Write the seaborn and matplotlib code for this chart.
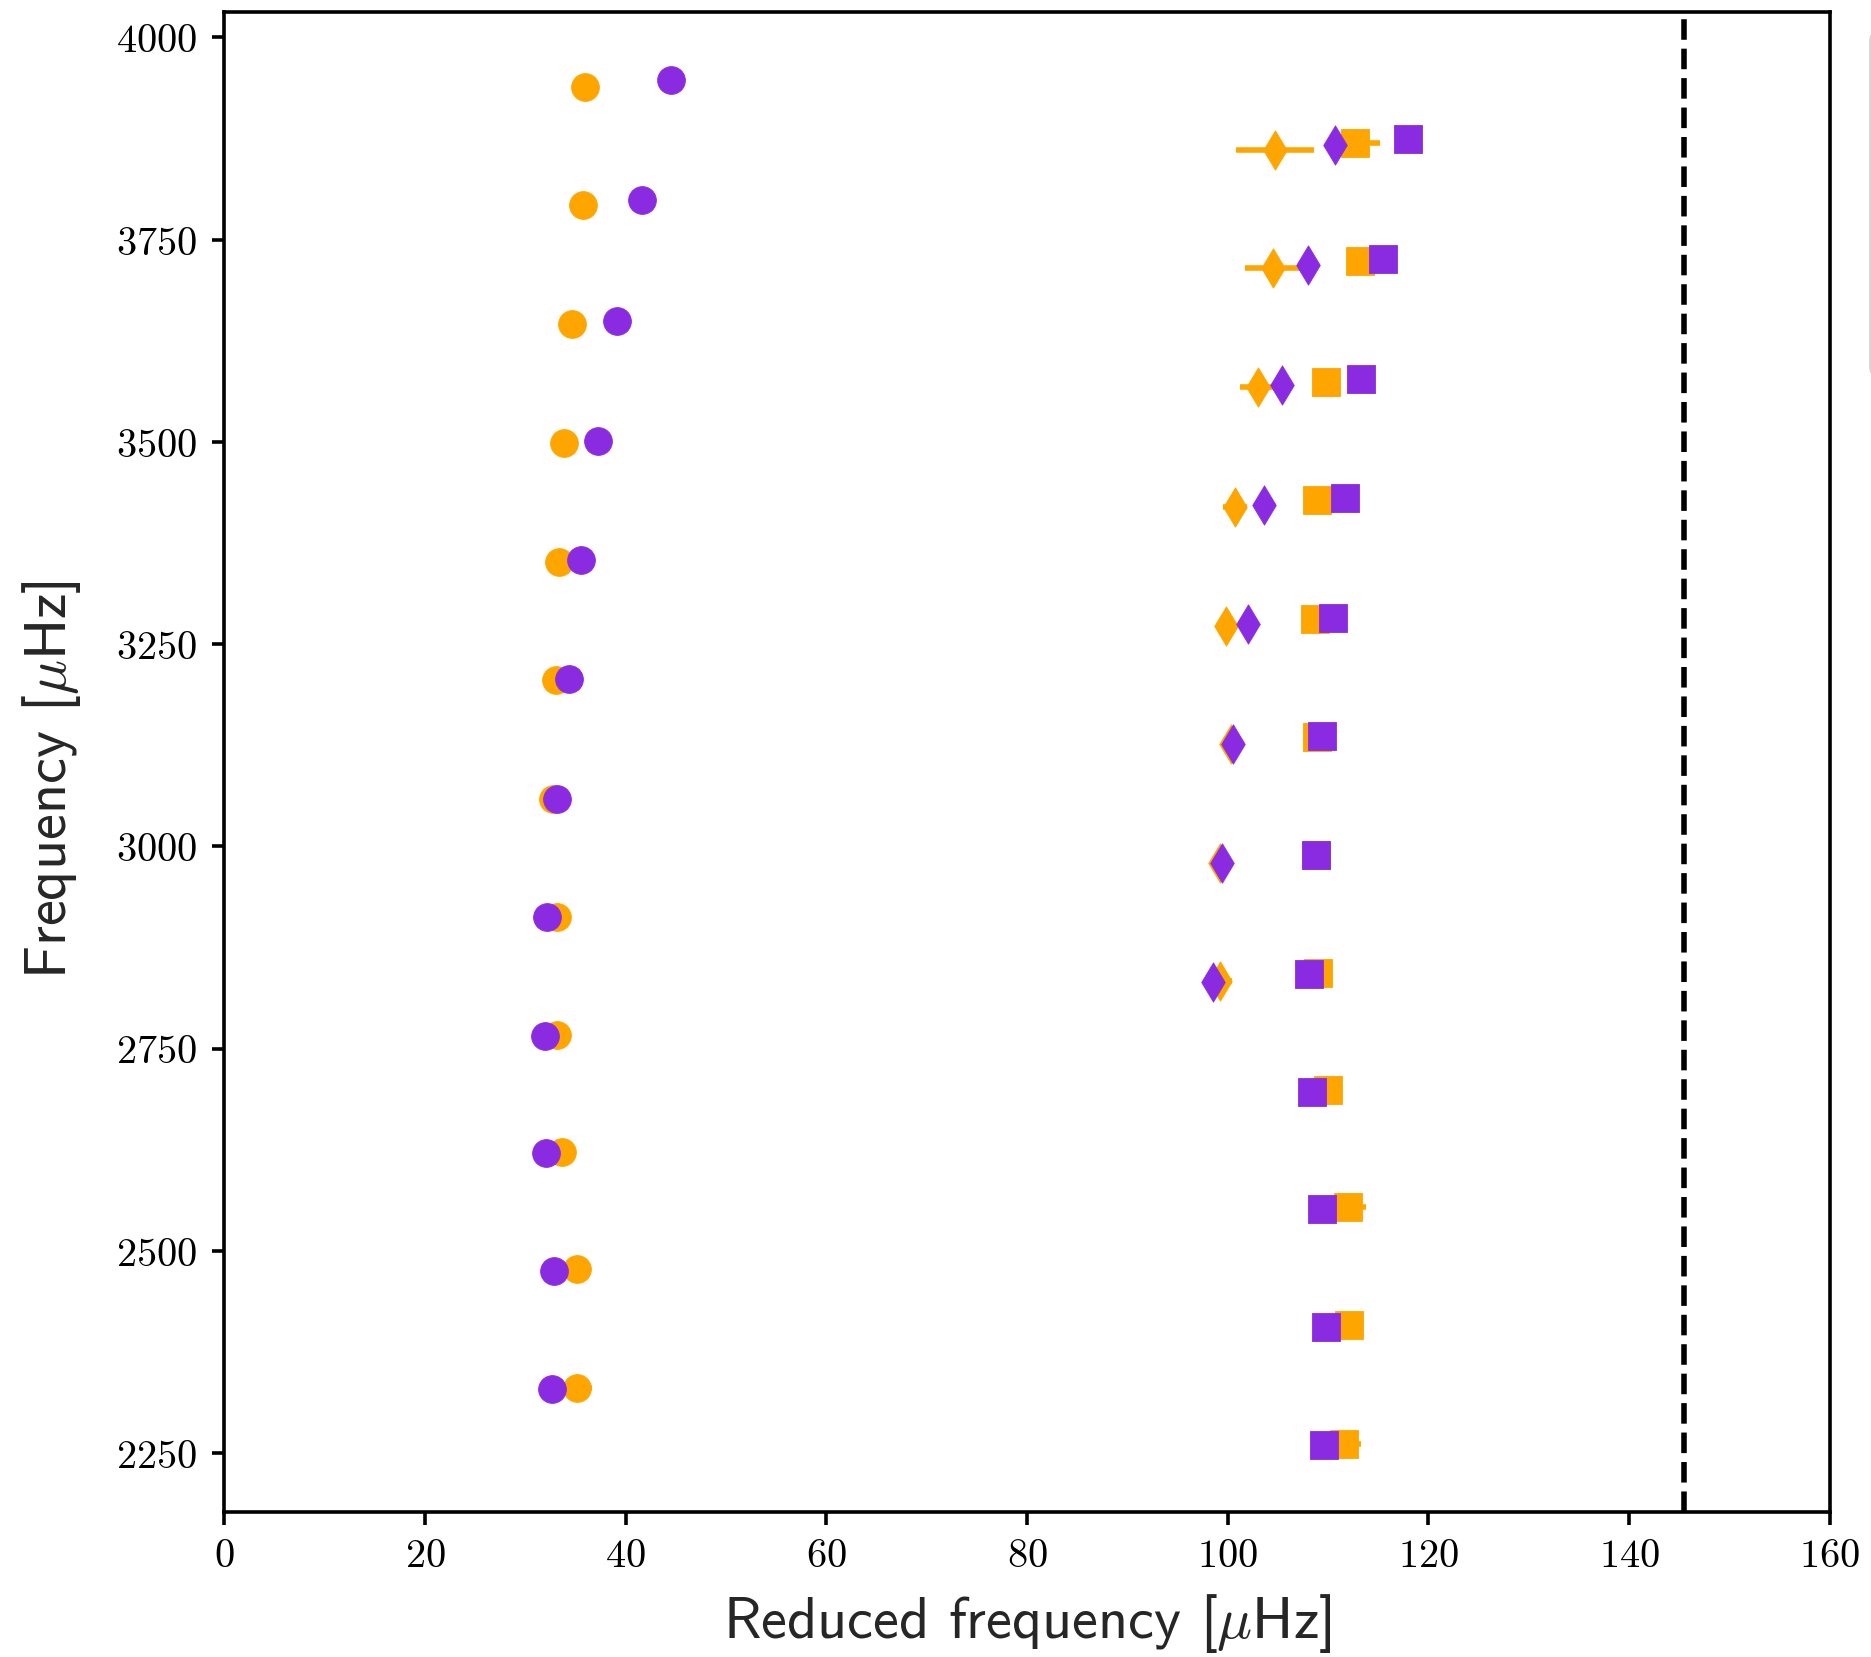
import numpy as np
import pandas as pd
import seaborn as sns
import matplotlib
matplotlib.use("Agg")
import matplotlib.pyplot as plt

# ---------------- data ----------------
# observed (orange)
obs_l1_x = [35.93, 35.73, 34.64, 33.81, 33.37, 33.04, 32.78, 33.17, 33.17, 33.70, 35.17, 35.14]
obs_l1_y = [3938.5, 3792.4, 3645.3, 3498.3, 3351.6, 3206.0, 3059.0, 2913.0, 2767.3, 2622.0, 2477.2, 2331.0]
obs_l1_err = [0.6, 0.5, 0.5, 0.4, 0.4, 0.4, 0.4, 0.4, 0.5, 0.6, 0.9, 1.5]

obs_l0_x = [112.7, 113.2, 109.75, 108.9, 108.7, 108.9, 108.8, 109.0, 109.95, 112.0, 112.1, 111.6]
obs_l0_y = [3869.5, 3724.0, 3574.5, 3427.5, 3281.0, 3135.4, 2989.6, 2843.0, 2698.3, 2554.0, 2408.0, 2261.7]
obs_l0_err = [2.5, 1.2, 0.9, 0.7, 0.6, 0.5, 0.5, 0.6, 0.8, 1.8, 1.2, 1.7]

obs_l2_x = [104.7, 104.5, 103.0, 100.7, 99.8, 100.35, 99.2, 99.2]
obs_l2_y = [3861.0, 3715.0, 3568.0, 3419.0, 3272.0, 3127.0, 2979.7, 2833.4]
obs_l2_err = [3.85, 2.8, 1.8, 1.2, 1.0, 0.9, 0.9, 1.2]

# model (purple)
mod_l1_x = [44.47, 41.60, 39.15, 37.20, 35.50, 34.37, 33.17, 32.20, 31.98, 32.10, 32.85, 32.65]
mod_l1_y = [3947.0, 3798.6, 3649.5, 3501.5, 3354.0, 3206.7, 3059.0, 2913.0, 2766.0, 2620.5, 2474.6, 2329.0]

mod_l0_x = [118.0, 115.5, 113.3, 111.7, 110.5, 109.4, 108.75, 108.1, 108.4, 109.35, 109.75, 109.6]
mod_l0_y = [3874.8, 3726.0, 3578.0, 3430.0, 3282.8, 3135.8, 2989.0, 2842.5, 2696.7, 2551.6, 2405.8, 2259.7]

mod_l2_x = [110.7, 108.0, 105.4, 103.6, 102.0, 100.5, 99.4, 98.5]
mod_l2_y = [3867.0, 3718.7, 3570.0, 3422.0, 3274.6, 3127.0, 2979.7, 2832.6]

delta_nu = 145.5

xticks = [0, 20, 40, 60, 80, 100, 120, 140, 160]
yticks = [2250, 2500, 2750, 3000, 3250, 3500, 3750, 4000]

# ---------------- style ----------------
sns.set_theme(style="ticks")
plt.rcParams.update({
    "font.family": ["cmr10", "DejaVu Sans"],
    "mathtext.fontset": "cm",
    "axes.formatter.use_mathtext": True,
    "axes.linewidth": 1.3,
    "axes.edgecolor": "black",
    "xtick.major.size": 4.5,
    "ytick.major.size": 4.5,
    "xtick.major.width": 1.3,
    "ytick.major.width": 1.3,
    "xtick.major.pad": 5.0,
    "ytick.major.pad": 5.5,
    "xtick.color": "black",
    "ytick.color": "black",
    "xtick.labelsize": 14.5,
    "ytick.labelsize": 14.5,
    "axes.unicode_minus": False,
})

ORANGE = "orange"
PURPLE = "blueviolet"

fig = plt.figure(figsize=(9.355, 8.29), dpi=200)
ax = fig.add_axes([0.1199, 0.0874, 0.978 - 0.1199, 0.992 - 0.0874])

# error bars (observed)
for xs, ys, es in [(obs_l1_x, obs_l1_y, obs_l1_err),
                   (obs_l0_x, obs_l0_y, obs_l0_err),
                   (obs_l2_x, obs_l2_y, obs_l2_err)]:
    ax.errorbar(xs, ys, xerr=es, fmt="none", ecolor=ORANGE, elinewidth=2,
                capsize=0, zorder=1)

groups = [
    (obs_l1_x, obs_l1_y, ORANGE, "o", r"$\ell=1$ observed"),
    (obs_l0_x, obs_l0_y, ORANGE, "s", r"$\ell=0$ observed"),
    (obs_l2_x, obs_l2_y, ORANGE, "d", r"$\ell=2$ observed"),
    (mod_l1_x, mod_l1_y, PURPLE, "o", r"$\ell=1$ model"),
    (mod_l0_x, mod_l0_y, PURPLE, "s", r"$\ell=0$ model"),
    (mod_l2_x, mod_l2_y, PURPLE, "d", r"$\ell=2$ model"),
]
for i, (xs, ys, c, m, lab) in enumerate(groups):
    df = pd.DataFrame({"x": xs, "y": ys})
    sns.scatterplot(data=df, x="x", y="y", ax=ax, color=c, marker=m, s=100,
                    edgecolor=c, linewidth=0.3, legend=False, label=lab,
                    zorder=3 + i)

ax.axvline(delta_nu, color="black", ls="--", lw=2, zorder=2)

ax.set_xlim(0, 160)
ax.set_xticks(xticks)
ax.set_yticks(yticks)
ax.set_ylim(2177, 4031)

ax.set_xlabel(r"Reduced frequency [$\mu$Hz]", fontfamily="cmss10", fontsize=21, labelpad=6)
ax.set_ylabel(r"Frequency [$\mu$Hz]", fontfamily="cmss10", fontsize=21)
ax.yaxis.set_label_coords(-0.088, 0.489)

ax.legend(loc="upper left", bbox_to_anchor=(1.025, 0.987), borderaxespad=0,
          fontsize=14, frameon=True)

fig.savefig("out.png", dpi=200)
